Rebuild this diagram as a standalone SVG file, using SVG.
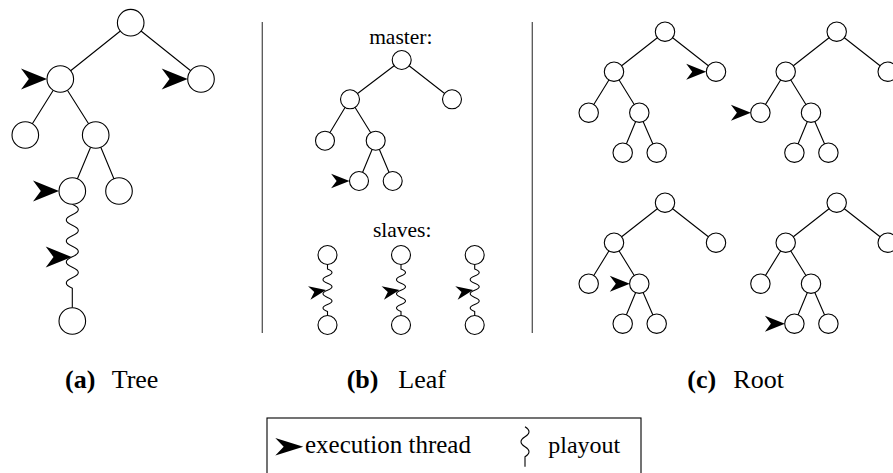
<svg xmlns="http://www.w3.org/2000/svg" xmlns:xlink="http://www.w3.org/1999/xlink" width="893" height="473" viewBox="0 0 893 473">
<defs>
<style>
.n{fill:#fff;stroke:#000;stroke-width:1.1}
.e{stroke:#000;stroke-width:1.1;fill:none}
.w{stroke:#000;stroke-width:1.1;fill:none}
.sep{stroke:#555;stroke-width:1.3}
</style>
<path id="arr" d="M0,0 L-20,-8 L-14,0 L-20,8 Z" fill="#000"/>
</defs>
<rect width="893" height="473" fill="#fff"/>

<!-- separators -->
<line class="sep" x1="262.3" y1="22" x2="262.3" y2="333"/>
<line class="sep" x1="532.3" y1="22" x2="532.3" y2="333"/>

<g id="connectors">
<!-- (a) -->
<path class="e" d="M130.7,22.7L60.3,79M130.7,22.7L201,79M60.3,79L25.3,135M60.3,79L95.7,135M95.7,135L72.3,191M95.7,135L119,191"/>
<path class="w" d="M72.3,204.3q12,5.25 0,10.5t0,10.5t0,10.5t0,10.5t0,10.5t0,10.5t0,10.5t0,10.5L72.3,307.7"/>
<!-- (b) master -->
<path class="e" d="M401.7,60L350,99.3M401.7,60L452,99.3M350,99.3L325,140.7M350,99.3L375.7,140.7M375.7,140.7L359,181M375.7,140.7L392.7,181"/>
<!-- (b) slaves -->
<path class="w" d="M327.5,264.5V269q9,3.55 0,7.1t0,7.1t0,7.1t0,7.1t0,7.1t0,7.1V315.5"/>
<path class="w" d="M401,264.5V269q9,3.55 0,7.1t0,7.1t0,7.1t0,7.1t0,7.1t0,7.1V315.5"/>
<path class="w" d="M474.7,264.5V269q9,3.55 0,7.1t0,7.1t0,7.1t0,7.1t0,7.1t0,7.1V315.5"/>
<!-- (c) -->
<path class="e" d="M665,31.7L614,71.7M665,31.7L716,71.7M614,71.7L588.7,112.7M614,71.7L639.3,112.7M639.3,112.7L622.7,152.7M639.3,112.7L656.7,152.7"/>
<path class="e" d="M836.7,31.7L785.7,71.7M836.7,31.7L887.7,71.7M785.7,71.7L760.4,112.7M785.7,71.7L811,112.7M811,112.7L794.4,152.7M811,112.7L828.4,152.7"/>
<path class="e" d="M665,202.7L614,242.7M665,202.7L716,242.7M614,242.7L588.7,283.7M614,242.7L639.3,283.7M639.3,283.7L622.7,323.7M639.3,283.7L656.7,323.7"/>
<path class="e" d="M836.7,202.7L785.7,242.7M836.7,202.7L887.7,242.7M785.7,242.7L760.4,283.7M785.7,242.7L811,283.7M811,283.7L794.4,323.7M811,283.7L828.4,323.7"/>
</g>

<!-- (a) nodes -->
<g id="a-root"><circle class="n" cx="130.7" cy="22.7" r="13.3"/></g>
<g id="a-l"><circle class="n" cx="60.3" cy="79" r="13.3"/></g>
<g id="a-r"><circle class="n" cx="201" cy="79" r="13.3"/></g>
<g id="a-ll"><circle class="n" cx="25.3" cy="135" r="13.3"/></g>
<g id="a-lr"><circle class="n" cx="95.7" cy="135" r="13.3"/></g>
<g id="a-lrl"><circle class="n" cx="72.3" cy="191" r="13.3"/></g>
<g id="a-lrr"><circle class="n" cx="119" cy="191" r="13.3"/></g>
<g id="a-end"><circle class="n" cx="72.3" cy="321" r="13.3"/></g>

<!-- (b) nodes -->
<g id="b-root"><circle class="n" cx="401.7" cy="60" r="9.5"/></g>
<g id="b-l"><circle class="n" cx="350" cy="99.3" r="9.5"/></g>
<g id="b-r"><circle class="n" cx="452" cy="99.3" r="9.5"/></g>
<g id="b-ll"><circle class="n" cx="325" cy="140.7" r="9.5"/></g>
<g id="b-lr"><circle class="n" cx="375.7" cy="140.7" r="9.5"/></g>
<g id="b-lrl"><circle class="n" cx="359" cy="181" r="9.5"/></g>
<g id="b-lrr"><circle class="n" cx="392.7" cy="181" r="9.5"/></g>
<g id="b-s1-top"><circle class="n" cx="327.5" cy="255" r="9.5"/></g>
<g id="b-s1-end"><circle class="n" cx="327.5" cy="325" r="9.5"/></g>
<g id="b-s2-top"><circle class="n" cx="401" cy="255" r="9.5"/></g>
<g id="b-s2-end"><circle class="n" cx="401" cy="325" r="9.5"/></g>
<g id="b-s3-top"><circle class="n" cx="474.7" cy="255" r="9.5"/></g>
<g id="b-s3-end"><circle class="n" cx="474.7" cy="325" r="9.5"/></g>

<!-- (c) nodes -->
<g id="c1-root"><circle class="n" cx="665" cy="31.7" r="9.7"/></g>
<g id="c1-l"><circle class="n" cx="614" cy="71.7" r="9.7"/></g>
<g id="c1-r"><circle class="n" cx="716" cy="71.7" r="9.7"/></g>
<g id="c1-ll"><circle class="n" cx="588.7" cy="112.7" r="9.7"/></g>
<g id="c1-lr"><circle class="n" cx="639.3" cy="112.7" r="9.7"/></g>
<g id="c1-lrl"><circle class="n" cx="622.7" cy="152.7" r="9.7"/></g>
<g id="c1-lrr"><circle class="n" cx="656.7" cy="152.7" r="9.7"/></g>

<g id="c2-root"><circle class="n" cx="836.7" cy="31.7" r="9.7"/></g>
<g id="c2-l"><circle class="n" cx="785.7" cy="71.7" r="9.7"/></g>
<g id="c2-r"><circle class="n" cx="887.7" cy="71.7" r="9.7"/></g>
<g id="c2-ll"><circle class="n" cx="760.4" cy="112.7" r="9.7"/></g>
<g id="c2-lr"><circle class="n" cx="811" cy="112.7" r="9.7"/></g>
<g id="c2-lrl"><circle class="n" cx="794.4" cy="152.7" r="9.7"/></g>
<g id="c2-lrr"><circle class="n" cx="828.4" cy="152.7" r="9.7"/></g>

<g id="c3-root"><circle class="n" cx="665" cy="202.7" r="9.7"/></g>
<g id="c3-l"><circle class="n" cx="614" cy="242.7" r="9.7"/></g>
<g id="c3-r"><circle class="n" cx="716" cy="242.7" r="9.7"/></g>
<g id="c3-ll"><circle class="n" cx="588.7" cy="283.7" r="9.7"/></g>
<g id="c3-lr"><circle class="n" cx="639.3" cy="283.7" r="9.7"/></g>
<g id="c3-lrl"><circle class="n" cx="622.7" cy="323.7" r="9.7"/></g>
<g id="c3-lrr"><circle class="n" cx="656.7" cy="323.7" r="9.7"/></g>

<g id="c4-root"><circle class="n" cx="836.7" cy="202.7" r="9.7"/></g>
<g id="c4-l"><circle class="n" cx="785.7" cy="242.7" r="9.7"/></g>
<g id="c4-r"><circle class="n" cx="887.7" cy="242.7" r="9.7"/></g>
<g id="c4-ll"><circle class="n" cx="760.4" cy="283.7" r="9.7"/></g>
<g id="c4-lr"><circle class="n" cx="811" cy="283.7" r="9.7"/></g>
<g id="c4-lrl"><circle class="n" cx="794.4" cy="323.7" r="9.7"/></g>
<g id="c4-lrr"><circle class="n" cx="828.4" cy="323.7" r="9.7"/></g>

<!-- execution thread arrows -->
<g id="threads">
<use xlink:href="#arr" href="#arr" transform="translate(47,79) scale(1.3)"/>
<use xlink:href="#arr" href="#arr" transform="translate(187.7,79) scale(1.3)"/>
<use xlink:href="#arr" href="#arr" transform="translate(59,191) scale(1.3)"/>
<use xlink:href="#arr" href="#arr" transform="translate(71.7,257) scale(1.3)"/>
<use xlink:href="#arr" href="#arr" transform="translate(349.5,181) scale(0.92)"/>
<use xlink:href="#arr" href="#arr" transform="translate(326,290) rotate(-10) scale(0.85)"/>
<use xlink:href="#arr" href="#arr" transform="translate(399.5,290) rotate(-10) scale(0.85)"/>
<use xlink:href="#arr" href="#arr" transform="translate(473.2,290) rotate(-10) scale(0.85)"/>
<use xlink:href="#arr" href="#arr" transform="translate(706.2,71.7)"/>
<use xlink:href="#arr" href="#arr" transform="translate(750.9,112.7)"/>
<use xlink:href="#arr" href="#arr" transform="translate(629.8,283.7)"/>
<use xlink:href="#arr" href="#arr" transform="translate(784.9,323.7)"/>
</g>

<g font-family="Liberation Serif, serif" fill="#000">
<!-- labels -->
<text x="400.8" y="44" font-size="21.5" text-anchor="middle">master:</text>
<text x="402.2" y="236.7" font-size="21.5" text-anchor="middle">slaves:</text>

<g id="captions">
<text x="65" y="388.3" font-size="26" font-weight="bold">(a)</text>
<text x="111.7" y="388.3" font-size="26">Tree</text>
<text x="346.7" y="388.3" font-size="26" font-weight="bold">(b)</text>
<text x="398.3" y="388.3" font-size="26">Leaf</text>
<text x="687.3" y="388.3" font-size="26" font-weight="bold">(c)</text>
<text x="733.3" y="388.3" font-size="26">Root</text>
</g>

<!-- legend -->
<g id="legend">
<rect x="267" y="418" width="374" height="60" fill="none" stroke="#000" stroke-width="1.1"/>
<use xlink:href="#arr" href="#arr" transform="translate(303.3,446.7) scale(1.4,1.1)"/>
<text x="305" y="453.3" font-size="25">execution thread</text>
<path d="M525,426.7q8,5 0,10t0,10t0,10V466.7" fill="none" stroke="#000" stroke-width="1.1"/>
<text x="548.3" y="453.3" font-size="24">playout</text>
</g>
</g>
</svg>
